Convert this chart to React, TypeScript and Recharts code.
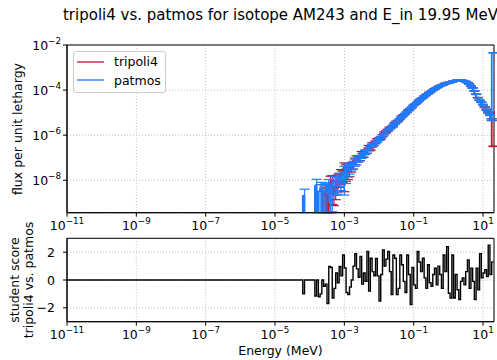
import React from "react";
import { ComposedChart, Line, ErrorBar, XAxis, YAxis, CartesianGrid, ReferenceArea, Legend } from "recharts";

// energy bins (MeV), upper bin edges
const energy = [
  1e-11,
  5.62e-5, 6.31e-5, 7.08e-5, 7.94e-5, 8.91e-5,
  1.0e-4, 1.12e-4, 1.26e-4, 1.41e-4, 1.58e-4, 1.78e-4, 2.0e-4, 2.24e-4, 2.51e-4, 2.82e-4,
  3.16e-4, 3.55e-4, 3.98e-4, 4.47e-4, 5.01e-4, 5.62e-4, 6.31e-4, 7.08e-4, 7.94e-4, 8.91e-4,
  1.0e-3, 1.12e-3, 1.26e-3, 1.41e-3, 1.58e-3, 1.78e-3, 2.0e-3, 2.24e-3, 2.51e-3, 2.82e-3,
  3.16e-3, 3.55e-3, 3.98e-3, 4.47e-3, 5.01e-3, 5.62e-3, 6.31e-3, 7.08e-3, 7.94e-3, 8.91e-3,
  1.0e-2, 1.12e-2, 1.26e-2, 1.41e-2, 1.58e-2, 1.78e-2, 2.0e-2, 2.24e-2, 2.51e-2, 2.82e-2,
  3.16e-2, 3.55e-2, 3.98e-2, 4.47e-2, 5.01e-2, 5.62e-2, 6.31e-2, 7.08e-2, 7.94e-2, 8.91e-2,
  0.1, 0.112, 0.126, 0.141, 0.158, 0.178, 0.2, 0.224, 0.251, 0.282,
  0.316, 0.355, 0.398, 0.447, 0.501, 0.562, 0.631, 0.708, 0.794, 0.891,
  1.0, 1.12, 1.26, 1.41, 1.58, 1.78, 2.0, 2.24, 2.51, 2.82,
  3.16, 3.55, 3.98, 4.47, 5.01, 5.62, 6.31, 7.08, 7.94, 8.91,
  10.0, 11.2, 12.6, 14.1, 15.8, 17.8, 19.95,
];

const tripoliFlux = [
  0,
  0, 0, 0, 0, 0,
  0, 0, 0, 0, 0, 0, 0, 0, 0, 2.5e-9,
  2.2e-9, 0, 7.5e-9, 8.5e-9, 2.5e-9, 5.5e-9, 1.0e-8, 1.2e-8, 1.8e-8, 1.8e-8,
  3.1e-8, 3.0e-8, 2.4e-8, 2.6e-8, 3.8e-8, 4.8e-8, 7.3e-8, 9.2e-8, 9.8e-8, 9.9e-8,
  1.53e-7, 1.3e-7, 1.82e-7, 1.91e-7, 3.0e-7, 2.45e-7, 3.97e-7, 4.14e-7, 4.9e-7, 6.3e-7,
  6.78e-7, 6.91e-7, 9.63e-7, 1.28e-6, 1.42e-6, 1.72e-6, 2.10e-6, 2.29e-6, 2.47e-6, 3.40e-6,
  4.00e-6, 4.20e-6, 5.12e-6, 6.69e-6, 7.74e-6, 8.78e-6, 1.02e-5, 1.31e-5, 1.50e-5, 1.69e-5,
  2.13e-5, 2.43e-5, 2.82e-5, 3.45e-5, 3.95e-5, 4.52e-5, 5.29e-5, 5.91e-5, 6.68e-5, 7.84e-5,
  8.68e-5, 9.68e-5, 1.11e-4, 1.24e-4, 1.34e-4, 1.51e-4, 1.63e-4, 1.74e-4, 1.98e-4, 1.99e-4,
  2.17e-4, 2.18e-4, 2.29e-4, 2.55e-4, 2.55e-4, 2.71e-4, 2.72e-4, 2.69e-4, 2.69e-4, 2.58e-4,
  2.39e-4, 2.16e-4, 1.86e-4, 1.50e-4, 1.25e-4, 9.32e-5, 6.47e-5, 4.63e-5, 3.51e-5, 2.90e-5,
  2.25e-5, 1.78e-5, 1.37e-5, 1.04e-5, 9.4e-6, 4.95e-6, 3.2e-7,
];

const patmosFlux = [
  0,
  0, 0, 2.0e-9, 0, 0,
  0, 0, 0, 0, 5.5e-9, 0, 3.2e-9, 4.0e-9, 0, 3.5e-9,
  3.0e-9, 6.0e-9, 3.0e-9, 4.0e-9, 9.0e-9, 8.5e-9, 8.0e-9, 1.3e-8, 1.0e-8, 1.6e-8,
  2.2e-8, 2.4e-8, 3.1e-8, 3.4e-8, 4.3e-8, 4.8e-8, 6.1e-8, 6.8e-8, 8.6e-8, 9.6e-8,
  1.21e-7, 1.36e-7, 1.7e-7, 1.93e-7, 2.4e-7, 2.72e-7, 3.38e-7, 3.87e-7, 4.75e-7, 5.5e-7,
  6.61e-7, 7.85e-7, 9.33e-7, 1.11e-6, 1.32e-6, 1.57e-6, 1.86e-6, 2.21e-6, 2.63e-6, 3.13e-6,
  3.72e-6, 4.42e-6, 5.25e-6, 6.24e-6, 7.41e-6, 8.81e-6, 1.05e-5, 1.24e-5, 1.48e-5, 1.76e-5,
  2.09e-5, 2.45e-5, 2.85e-5, 3.31e-5, 3.85e-5, 4.47e-5, 5.13e-5, 5.89e-5, 6.76e-5, 7.67e-5,
  8.71e-5, 9.77e-5, 1.10e-4, 1.22e-4, 1.35e-4, 1.48e-4, 1.62e-4, 1.76e-4, 1.91e-4, 1.97e-4,
  2.09e-4, 2.21e-4, 2.34e-4, 2.48e-4, 2.60e-4, 2.69e-4, 2.75e-4, 2.75e-4, 2.69e-4, 2.57e-4,
  2.40e-4, 2.14e-4, 1.82e-4, 1.51e-4, 1.23e-4, 9.33e-5, 6.61e-5, 4.57e-5, 3.55e-5, 2.82e-5,
  2.24e-5, 1.74e-5, 1.32e-5, 1.02e-5, 7.94e-6, 4.79e-6, 4.5e-3,
];

// relative statistical error, same binning
const relErr = [
  0,
  0, 0, 1.0, 0, 0,
  0, 0, 0, 0, 1.0, 0, 1.0, 1.0, 0, 1.0,
  1.0, 0.8, 1.0, 0.9, 0.7, 0.75, 0.7, 0.6, 0.65, 0.55,
  0.9, 0.7, 0.55, 0.45, 0.4, 0.35, 0.32, 0.3, 0.27, 0.25,
  0.23, 0.21, 0.2, 0.18, 0.17, 0.16, 0.15, 0.14, 0.13, 0.12,
  0.11, 0.1, 0.1, 0.09, 0.09, 0.08, 0.08, 0.07, 0.07, 0.06,
  0.06, 0.06, 0.05, 0.05, 0.05, 0.04, 0.04, 0.04, 0.04, 0.03,
  0.03, 0.03, 0.03, 0.03, 0.03, 0.03, 0.03, 0.03, 0.03, 0.03,
  0.02, 0.02, 0.02, 0.02, 0.02, 0.02, 0.02, 0.02, 0.02, 0.02,
  0.02, 0.02, 0.02, 0.02, 0.02, 0.02, 0.02, 0.02, 0.02, 0.02,
  0.02, 0.02, 0.02, 0.02, 0.02, 0.02, 0.02, 0.02, 0.02, 0.02,
  0.03, 0.04, 0.05, 0.06, 0.07, 0.09, 0.02,
];

const studentScore = [
  0,
  0, 0, -1.0, 0, 0,
  0, 0, 0, 0, -1.15, 0, -1.2, -1.0, 0, -0.45,
  -0.3, -1.7, 0.97, 0.9, -1.3, -0.6, 0.5, -0.2, 0.97, 0.3,
  1.8, 0.86, -0.9, -1.05, -0.5, 0.0, 1.0, 1.9, 0.8, 0.2,
  1.7, -0.3, 0.5, -0.1, 2.05, -0.8, 1.57, 0.6, 0.3, 1.55,
  0.3, -1.52, 0.4, 2.17, 1.0, 1.5, 2.05, 0.6, -1.05, 1.8,
  1.57, -1.05, -0.6, 1.8, 1.1, -0.1, -0.9, 1.8, 0.4, -1.76,
  0.9, -0.35, -0.6, 2.05, 1.3, 0.6, 1.57, 0.15, -0.6, 1.1,
  -0.2, -0.45, 0.4, 0.85, -0.35, 1.0, 0.4, -0.6, 1.8, 0.6,
  2.4, -0.95, -1.3, 1.8, -1.3, 0.4, -0.7, -1.4, -0.1, 0.15,
  -0.35, 0.6, 1.45, -0.6, 0.85, -0.1, -1.4, 0.85, -0.7, 1.9,
  0.15, 0.5, 0.75, 0.25, 2.5, 0.4, 1.3,
];

const seriesNames = ["tripoli4", "patmos"];
const xTicks = [1e-11, 1e-9, 1e-7, 1e-5, 1e-3, 1e-1, 1e1];
const fluxTicks = [1e-8, 1e-6, 1e-4, 1e-2];
const scoreTicks = [-2, 0, 2];

const X_DOMAIN = [1e-11, 20.7];
const FLUX_DOMAIN = [3.63e-10, 1e-2];
const SCORE_DOMAIN = [-3, 3];
// empty bins fall off the bottom of the log axis (like matplotlib's clip)
const CLIP = 1e-13;

const RED = "#c0182f";
const BLUE = "#1e7cff";
const FONT = "DejaVu Sans, sans-serif";

const errPair = (v: number, r: number) =>
  v > 0 && r > 0 ? [v - Math.max(v * (1 - r), FLUX_DOMAIN[0]), v * r] : null;

const data = energy.map((e, i) => ({
  e,
  tripoli: tripoliFlux[i] > 0 ? tripoliFlux[i] : CLIP,
  patmos: patmosFlux[i] > 0 ? patmosFlux[i] : CLIP,
  tripoliErr: errPair(tripoliFlux[i], relErr[i]),
  patmosErr: errPair(patmosFlux[i], relErr[i]),
  score: studentScore[i],
}));

const expLabel = (v: number) => {
  const e = Math.round(Math.log10(v));
  return e < 0 ? `\u2212${-e}` : `${e}`;
};

const LogTickX = ({ x, y, payload }: any) => (
  <text x={x} y={y + 11} textAnchor="middle" fontFamily={FONT} fontSize={12.5} fill="#000">
    10<tspan dy={-5.5} fontSize={8.75}>{expLabel(payload.value)}</tspan>
  </text>
);

const LogTickY = ({ x, y, payload }: any) => (
  <text x={x} y={y + 4.5} textAnchor="end" fontFamily={FONT} fontSize={12.5} fill="#000">
    10<tspan dy={-5.5} fontSize={8.75}>{expLabel(payload.value)}</tspan>
  </text>
);

const ScoreTick = ({ x, y, payload }: any) => (
  <text x={x - 6} y={y + 4.5} textAnchor="end" fontFamily={FONT} fontSize={12.5} fill="#000">
    {payload.value < 0 ? `\u2212${-payload.value}` : payload.value}
  </text>
);

const LegendBox = ({ payload }: any) => {
  const items = [...(payload || [])].sort(
    (a: any, b: any) => seriesNames.indexOf(a.value) - seriesNames.indexOf(b.value)
  );
  return (
    <div
      style={{
        width: 93,
        height: 42,
        boxSizing: "border-box",
        border: "1px solid #cccccc",
        borderRadius: 3,
        background: "rgba(255,255,255,0.8)",
        padding: "1px 0 0 3px",
        fontFamily: FONT,
        fontSize: 12.5,
      }}
    >
      {items.map((p: any) => (
        <div key={p.value} style={{ display: "flex", alignItems: "center", height: 18.4 }}>
          <svg width={27} height={4} style={{ marginRight: 10 }}>
            <line x1={0} y1={2} x2={27} y2={2} stroke={p.color} strokeWidth={1.3} />
          </svg>
          <span>{p.value}</span>
        </div>
      ))}
    </div>
  );
};

const axisCommon = {
  tickSize: 4,
  tickMargin: 2,
  tickLine: { stroke: "#000" },
  axisLine: { stroke: "#000" },
  interval: 0 as const,
  allowDataOverflow: true,
};

export default function App() {
  return (
    <div style={{ position: "absolute", left: 0, top: 0, width: 497, height: 360, background: "#fff" }}>
      <div style={{ position: "absolute", left: 0, top: 0 }}>
        <ComposedChart width={497} height={240} data={data} margin={{ top: 45, right: 3, bottom: 7.3, left: 7 }}>
          <CartesianGrid stroke="#b0b0b0" strokeDasharray="1 2" strokeWidth={0.8} />
          <XAxis dataKey="e" type="number" scale="log" domain={X_DOMAIN} ticks={xTicks} height={20} tick={<LogTickX />} {...axisCommon} />
          <YAxis type="number" scale="log" domain={FLUX_DOMAIN} ticks={fluxTicks} width={60} tick={<LogTickY />} {...axisCommon} />
          <Line dataKey="tripoli" name="tripoli4" type="stepBefore" stroke={RED} strokeWidth={1.8} dot={false} isAnimationActive={false}>
            <ErrorBar dataKey="tripoliErr" direction="y" width={5} stroke={RED} strokeWidth={1.2} />
          </Line>
          <Line dataKey="patmos" name="patmos" type="stepBefore" stroke={BLUE} strokeWidth={1.8} dot={false} isAnimationActive={false}>
            <ErrorBar dataKey="patmosErr" direction="y" width={5} stroke={BLUE} strokeWidth={1.2} />
          </Line>
          <ReferenceArea x1={X_DOMAIN[0]} x2={X_DOMAIN[1]} y1={FLUX_DOMAIN[0]} y2={FLUX_DOMAIN[1]} fill="none" stroke="#000" strokeWidth={1} ifOverflow="visible" />
          <Legend layout="vertical" align="center" verticalAlign="middle" content={<LegendBox />} wrapperStyle={{ left: 73, top: 50.7, width: 93, height: 42 }} />
        </ComposedChart>
      </div>
      <div style={{ position: "absolute", left: 0, top: 230 }}>
        <ComposedChart width={497} height={130} data={data} margin={{ top: 8.3, right: 3, bottom: 18.3, left: 7 }}>
          <CartesianGrid stroke="#b0b0b0" strokeDasharray="1 2" strokeWidth={0.8} />
          <XAxis dataKey="e" type="number" scale="log" domain={X_DOMAIN} ticks={xTicks} height={20} tick={<LogTickX />} {...axisCommon} />
          <YAxis type="number" domain={SCORE_DOMAIN} ticks={scoreTicks} width={60} tick={<ScoreTick />} {...axisCommon} />
          <Line dataKey="score" type="stepBefore" stroke="#000" strokeWidth={1.4} dot={false} isAnimationActive={false} />
          <ReferenceArea x1={X_DOMAIN[0]} x2={X_DOMAIN[1]} y1={SCORE_DOMAIN[0]} y2={SCORE_DOMAIN[1]} fill="none" stroke="#000" strokeWidth={1} ifOverflow="visible" />
        </ComposedChart>
      </div>
      <svg width={497} height={360} style={{ position: "absolute", left: 0, top: 0, pointerEvents: "none" }} fontFamily={FONT} fill="#000">
        <text x={280.5} y={20} textAnchor="middle" fontSize={15}>
          tripoli4 vs. patmos for isotope AM243 and E_in 19.95 MeV
        </text>
        <text transform="translate(22,129) rotate(-90)" textAnchor="middle" fontSize={12.5}>
          flux per unit lethargy
        </text>
        <text transform="translate(18.5,280) rotate(-90)" textAnchor="middle" fontSize={12.5}>
          student score
        </text>
        <text transform="translate(32.5,280) rotate(-90)" textAnchor="middle" fontSize={12.5}>
          tripoli4 vs. patmos
        </text>
        <text x={280.5} y={355} textAnchor="middle" fontSize={12.5}>
          Energy (MeV)
        </text>
      </svg>
    </div>
  );
}
